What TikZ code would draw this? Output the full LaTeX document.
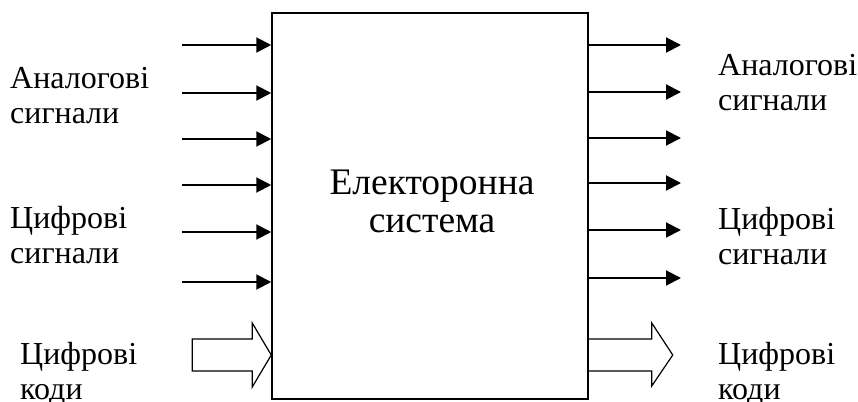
\documentclass[tikz,border=0pt]{standalone}
\usepackage{fontspec}
\setmainfont{Liberation Serif}
\usepackage{tikz}
\usetikzlibrary{arrows.meta, positioning}

\tikzset{
    sigarrow/.style={line width=2pt, -{Triangle[length=15pt,width=15pt]}},
    codearrow/.style={line width=1.2pt, line join=miter},
    lbl/.style={font=\fontsize{32}{35}\selectfont, align=left, inner sep=0pt}
}

\begin{document}
\begin{tikzpicture}[x=1pt,y=-1pt]
    \useasboundingbox (0,0) rectangle (858,401);
    % Main block
    \node[draw, line width=1.5pt, minimum width=316pt, minimum height=386pt, inner sep=0pt] (sys) at (430,206) {};
    \node[font=\fontsize{37.5}{38}\selectfont, align=center] (title) at (432,201) {Електоронна\\система};

    % Input signals
    \foreach \y [count=\i] in {45,93,139,185,232,282} {
        \coordinate (in\i) at (182,\y);
        \draw[sigarrow] (in\i) -- (sys.west |- in\i);
    }
    % Output signals
    \foreach \y [count=\i] in {45,92,138,183,230,278} {
        \coordinate (out\i) at (681,\y);
        \draw[sigarrow] (sys.east |- out\i) -- (out\i);
    }

    % Code buses
    \coordinate (cin) at (sys.west |- 0,355);
    \coordinate (cout) at (sys.east |- 0,355);
    \draw[codearrow] (cin) -- ++(-19,-32) -- ++(0,16) -- ++(-60,0) -- ++(0,32)
        -- ++(60,0) -- ++(0,16) -- cycle;
    \draw[codearrow] (cout) ++(0,-16) -- ++(63,0) -- ++(0,-16) -- ++(21,32)
        -- ++(-21,31) -- ++(0,-15) -- ++(-63,0);

    % Labels
    \node[lbl, anchor=west] (ainl) at (10,96) {Аналогові\\сигнали};
    \node[lbl, anchor=west] (dinl) at (10,235) {Цифрові\\сигнали};
    \node[lbl, anchor=west] (cinl) at (20,374) {Цифрові\\коди};
    \node[lbl, anchor=west] (aoutl) at (718,83) {Аналогові\\сигнали};
    \node[lbl, anchor=west] (doutl) at (718,236) {Цифрові\\сигнали};
    \node[lbl, anchor=west] (coutl) at (718,374) {Цифрові\\коди};
\end{tikzpicture}
\end{document}
